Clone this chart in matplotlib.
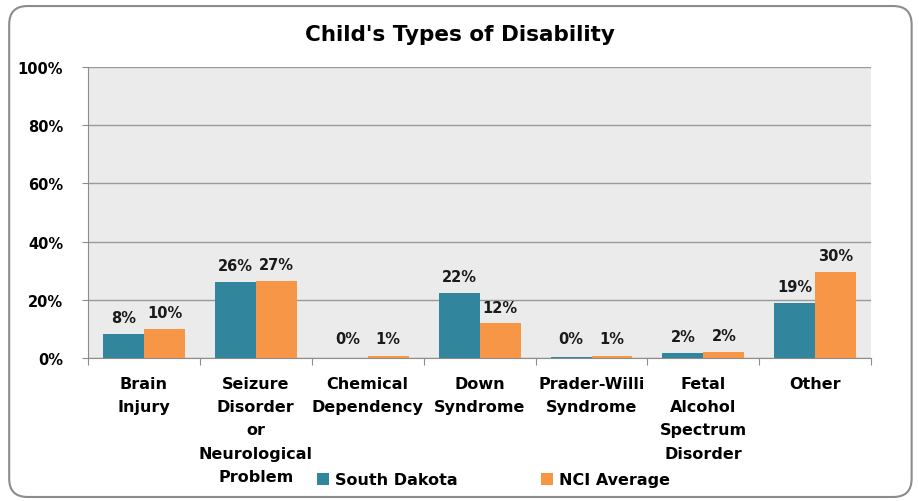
import matplotlib.pyplot as plt
from matplotlib.patches import FancyBboxPatch
import numpy as np

categories = ["Brain\nInjury", "Seizure\nDisorder\nor\nNeurological\nProblem",
              "Chemical\nDependency", "Down\nSyndrome", "Prader-Willi\nSyndrome",
              "Fetal\nAlcohol\nSpectrum\nDisorder", "Other"]
south_dakota = [8.2, 26.1, 0.0, 22.3, 0.45, 1.7, 18.9]
nci_average = [10.0, 26.6, 0.6, 11.9, 0.7, 2.1, 29.7]

teal = "#31859C"
orange = "#F79646"

plt.rcParams['font.family'] = ['DejaVu Sans']
plt.rcParams['font.weight'] = 'bold'

fig = plt.figure(figsize=(9.19, 5.02), dpi=100)
fig.patch.set_facecolor("white")

# rounded frame round the chart
frame = FancyBboxPatch((0.010, 0.008), 0.982, 0.978, boxstyle="round,pad=0,rounding_size=0.02",
                       transform=fig.transFigure, facecolor="white", edgecolor="#8c8c8c",
                       linewidth=1.5, zorder=-1, mutation_aspect=919/502)
fig.patches.append(frame)

ax = fig.add_axes([0.0958, 0.2849, 0.8522, 0.5796])
ax.set_facecolor("#EBEBEB")

x = np.arange(len(categories))
w = 0.366
b1 = ax.bar(x - w/2, south_dakota, w, color=teal, label="South Dakota", zorder=3)
b2 = ax.bar(x + w/2, nci_average, w, color=orange, label="NCI Average", zorder=3)

for bars, vals in ((b1, south_dakota), (b2, nci_average)):
    for r, v in zip(bars, vals):
        ax.text(r.get_x() + r.get_width()/2, max(v, 1.0) + 3.0, f"{v:.0f}%",
                ha="center", va="bottom", fontsize=10.5, fontweight="bold", color="#1a1a1a")

ax.set_ylim(0, 100)
ax.set_xlim(-0.5, len(categories) - 0.5)
ax.set_yticks([0, 20, 40, 60, 80, 100])
ax.set_yticklabels(["0%", "20%", "40%", "60%", "80%", "100%"], fontsize=10.5, fontweight="bold")
ax.yaxis.grid(True, color="#9a9a9a", linewidth=1.0, zorder=0)
ax.set_axisbelow(True)

ax.set_xticks(np.arange(len(categories) + 1) - 0.5)
ax.set_xticklabels([])
ax.set_xticks(x, minor=True)
ax.set_xticklabels(categories, minor=True, fontsize=11.5, fontweight="bold",
                   va="top", linespacing=1.68)
ax.tick_params(axis="x", which="minor", length=0, pad=13)
ax.tick_params(axis="x", which="major", length=5, color="#8c8c8c")
ax.tick_params(axis="y", length=4, color="#8c8c8c", pad=14)

for s in ["top", "right"]:
    ax.spines[s].set_visible(False)
for s in ["left", "bottom"]:
    ax.spines[s].set_color("#8c8c8c")

fig.text(0.5, 0.93, "Child's Types of Disability", ha="center", va="center",
         fontsize=15.5, fontweight="bold")

fig.legend(loc="center", bbox_to_anchor=(0.537, 1 - 481/502), ncol=2, frameon=False,
           handlelength=0.75, handleheight=0.75, handletextpad=0.4,
           columnspacing=5.2, prop={"weight": "bold", "size": 11.5})

fig.savefig("out.png", dpi=100)
